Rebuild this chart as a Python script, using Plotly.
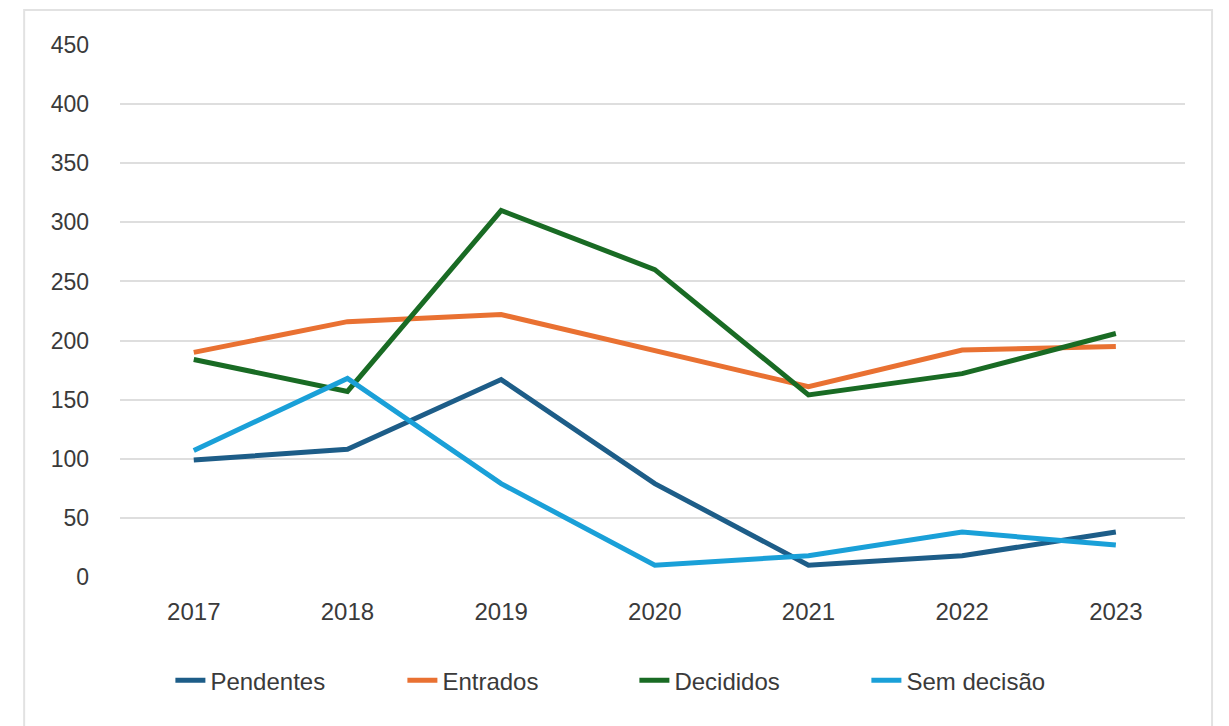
import plotly.graph_objects as go

years = ["2017", "2018", "2019", "2020", "2021", "2022", "2023"]
pendentes = [99, 108, 167, 79, 10, 18, 38]
entrados = [190, 216, 222, 191, 161, 192, 195]
decididos = [184, 157, 310, 260, 154, 172, 206]
sem_decisao = [107, 168, 79, 10, 18, 38, 27]

series = [
    ("Pendentes", pendentes, "#1d5d88"),
    ("Entrados", entrados, "#e97132"),
    ("Decididos", decididos, "#196b24"),
    ("Sem decisão", sem_decisao, "#1aa0d8"),
]

fig = go.Figure()
for name, values, color in series:
    fig.add_trace(go.Scatter(
        x=years, y=values, name=name, mode="lines",
        line=dict(color=color, width=5),
    ))

font = dict(family="Liberation Sans, Arial, sans-serif", size=23, color="#3a3a3a")

fig.update_layout(
    width=1229, height=726,
    margin=dict(l=120, r=44, t=45, b=149),
    paper_bgcolor="white", plot_bgcolor="white",
    font=font,
    showlegend=True,
    legend=dict(orientation="h", x=0.483, xanchor="center", y=-0.195, yanchor="middle",
                font=dict(size=24, color="#3a3a3a"), entrywidth=187,
                entrywidthmode="pixels", tracegroupgap=0),
    xaxis=dict(type="category", range=[-0.48, 6.45], showgrid=False, showline=False,
               zeroline=False, ticks="", ticklabelstandoff=18, tickfont=dict(size=24)),
    yaxis=dict(range=[0, 450], dtick=50, showgrid=True, gridcolor="#dedede", gridwidth=2,
               zeroline=False, showline=False, ticks="", ticklabelstandoff=30,
               tickfont=dict(size=23)),
    shapes=[dict(type="rect", xref="paper", yref="paper",
                 x0=-0.090, x1=1.0254, y0=-0.30, y1=1.066,
                 line=dict(color="#e2e2e2", width=2), fillcolor="rgba(0,0,0,0)",
                 layer="below")],
)

fig.write_html("out.html")
